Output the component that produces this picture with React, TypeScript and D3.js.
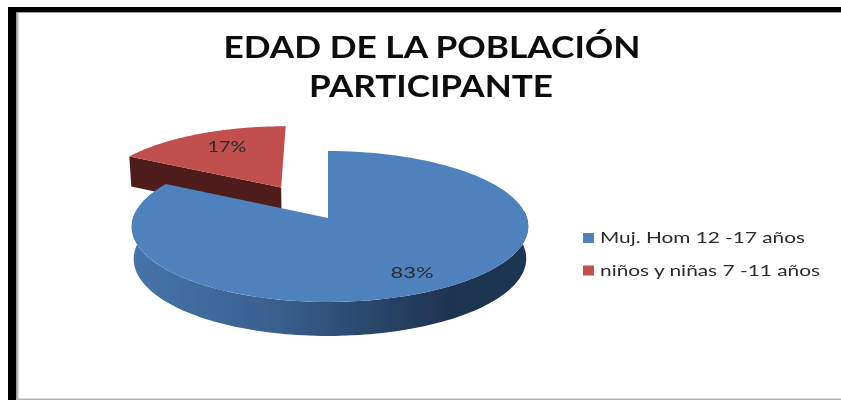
import React from "react";
import * as d3 from "d3";

const titleLines = ["EDAD DE LA POBLACIÓN", "PARTICIPANTE"];
const categories = ["Muj. Hom 12 -17 años", "niños y niñas 7 -11 años"];
const values = [83, 17];
const valueLabels = ["83%", "17%"];
const topColors = ["#4f81bd", "#c0504d"];

const W = 841, H = 400;
const cx = 328, cy = 218, R = 197, Ry = 74.5, persp = 0.1126;

type Pt = [number, number];
// perspective projection of a disc point (u right, v toward the viewer)
const project = (u: number, v: number, low = false): Pt => {
  const d = 1 - persp * v;
  const s = low ? 0.99 : 1;
  const x = cx + (s * R * u) / d + 2 * u * u;
  const y = cy + (Ry * v) / d + (low ? 32 + 2 * v : 0);
  return [x, y];
};
const rim = (a: number, ox: number, oy: number, low = false): Pt =>
  project(ox + Math.sin(a), oy - Math.cos(a), low);
const line = d3.line<Pt>().curve(d3.curveLinear);

const arcs = d3.pie<number>().sort(null)(values);
const blue = arcs[0], red = arcs[1];
const angles = (a0: number, a1: number) => d3.range(0, 121).map((i) => a0 + ((a1 - a0) * i) / 120);

function slicePath(a0: number, a1: number, ox: number, oy: number) {
  const pts: Pt[] = [project(ox, oy), ...angles(a0, a1).map((a) => rim(a, ox, oy))];
  return line(pts) + "Z";
}
function wallPath(a0: number, a1: number, ox: number, oy: number) {
  const ang = angles(a0, a1);
  const pts: Pt[] = [
    ...ang.map((a) => rim(a, ox, oy)),
    ...ang.slice().reverse().map((a) => rim(a, ox, oy, true)),
  ];
  return line(pts) + "Z";
}

const ex = -0.25, ey = -0.43; // explosion of the small slice
const redVertexTop = project(ex, ey);
const redLeftTop = rim(red.startAngle, ex, ey);
const redVertexLow = project(ex, ey, true);
const redLeftLow = rim(red.startAngle, ex, ey, true);

export default function App() {
  return (
    <svg
      width={W}
      height={H}
      viewBox={`0 0 ${W} ${H}`}
      style={{ position: "absolute", left: 0, top: 0, background: "#fff" }}
    >
      <defs>
        <linearGradient id="blueWall" gradientUnits="userSpaceOnUse" x1={132} x2={528} y1={0} y2={0}>
          <stop offset="0" stopColor="#4674a9" />
          <stop offset="0.35" stopColor="#3a6190" />
          <stop offset="0.6" stopColor="#2a476c" />
          <stop offset="0.8" stopColor="#1f3350" />
          <stop offset="1" stopColor="#1f3552" />
        </linearGradient>
        <filter id="soft" x="-5%" y="-5%" width="110%" height="110%">
          <feGaussianBlur stdDeviation="0.6" />
        </filter>
        <linearGradient id="edgeL" x1="0" x2="1" y1="0" y2="0">
          <stop offset="0" stopColor="#8a8a8a" />
          <stop offset="1" stopColor="#e8e8e8" />
        </linearGradient>
      </defs>

      <rect x={16} y={11} width={3} height={389} fill="url(#edgeL)" />
      <rect x={16} y={11} width={825} height={2} fill="#9a9a9a" />
      <rect x={8} y={7} width={8} height={393} fill="#000" />
      <rect x={8} y={7} width={833} height={5} fill="#000" />
      <rect x={16} y={398.5} width={825} height={1.5} fill="#b5b5b5" />

      <g filter="url(#soft)">
        <path
          d={line([redVertexTop, redLeftTop, redLeftLow, redVertexLow])! + "Z"}
          fill="#4f1c1a"
        />
        <path d={slicePath(red.startAngle, red.endAngle, ex, ey)} fill={topColors[1]} />
        <path
          d={wallPath(Math.PI * 0.47, Math.PI * 1.53, 0, 0)}
          fill="url(#blueWall)"
        />
        <path d={slicePath(blue.startAngle, blue.endAngle, 0, 0)} fill={topColors[0]} />
      </g>

      <g fontFamily="Lato, 'Open Sans', sans-serif" fill="#111">
        <g fontWeight={700} fontSize={31} textAnchor="middle" fill="#0a0a0a" filter="url(#soft)">
          <text x={432} y={58} textLength={417} lengthAdjust="spacingAndGlyphs">{titleLines[0]}</text>
          <text x={431} y={97} textLength={244} lengthAdjust="spacingAndGlyphs">{titleLines[1]}</text>
        </g>
        <g fontSize={16} textAnchor="middle" fill="#2a2a2a" filter="url(#soft)">
          <text x={412} y={278} textLength={43} lengthAdjust="spacingAndGlyphs">{valueLabels[0]}</text>
          <text x={227} y={152} textLength={39} lengthAdjust="spacingAndGlyphs">{valueLabels[1]}</text>
        </g>
        <g filter="url(#soft)">
          {categories.map((c, i) => (
            <g key={c}>
              <rect x={583} y={233 + i * 32.5} width={11} height={10} fill={topColors[i]} />
              <text
                x={600}
                y={243 + i * 33}
                fontSize={16}
                fill="#2a2a2a"
                textLength={i === 0 ? 205 : 220}
                lengthAdjust="spacingAndGlyphs"
              >
                {c}
              </text>
            </g>
          ))}
        </g>
      </g>
    </svg>
  );
}
